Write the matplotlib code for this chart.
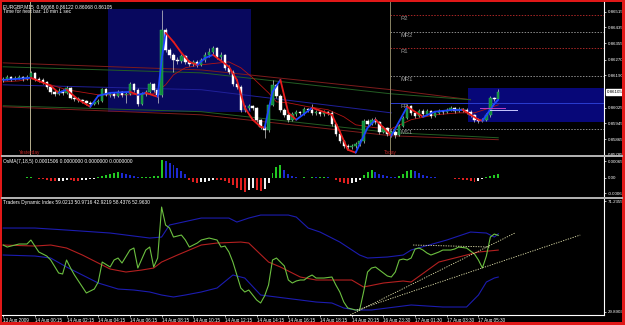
import numpy as np
import matplotlib
matplotlib.use("Agg")
import matplotlib.pyplot as plt
import matplotlib.transforms as mtransforms
from matplotlib.lines import Line2D
from matplotlib.patches import Rectangle

# ---------------- data ----------------
symbol_header = "EURGBP,M15  0.86068 0.86122 0.86068 0.86105"
timer_text = "Time for next bar: 10 min 1 sec"
osma_header = "OsMA(7,18,5) 0.0001506 0.0000000 0.0000000 0.0000000"
tdi_header = "Traders Dynamic Index 59.0213 50.9716 42.9219 58.4376 52.9630"

opens = [0.86167,0.86173,0.86183,0.86173,0.86178,0.86183,0.86173,0.86183,0.86203,0.86173,
 0.86167,0.86157,0.86132,0.86106,0.86096,0.86111,0.86101,0.86127,0.86076,0.86071,
 0.86066,0.86061,0.86050,0.86045,0.86055,0.86061,0.86122,0.86091,0.86096,0.86086,
 0.86106,0.86091,0.86096,0.86147,0.86117,0.86045,0.86096,0.86106,0.86147,0.86117,
 0.86091,0.86422,0.86320,0.86295,0.86269,0.86264,0.86290,0.86259,0.86249,0.86259,
 0.86244,0.86269,0.86295,0.86310,0.86330,0.86285,0.86295,0.86229,0.86208,0.86147,
 0.86132,0.86015,0.86025,0.86035,0.86025,0.85964,0.85928,0.85913,0.86040,0.86142,
 0.86086,0.86015,0.85989,0.85964,0.85994,0.86005,0.85999,0.86020,0.86015,0.85999,
 0.86005,0.85994,0.86005,0.85999,0.85943,0.85893,0.85857,0.85831,0.85826,0.85831,
 0.85842,0.85857,0.85959,0.85943,0.85964,0.85954,0.85903,0.85923,0.85893,0.85903,
 0.85887,0.85933,0.85974,0.86035,0.85999,0.85984,0.86010,0.85994,0.86010,0.85984,
 0.85999,0.86010,0.86005,0.86015,0.86025,0.86010,0.86020,0.86015,0.86005,0.85989,
 0.85964,0.85959,0.85964,0.85989,0.86076,0.86068]
closes = [0.86173,0.86183,0.86173,0.86178,0.86183,0.86173,0.86183,0.86203,0.86173,0.86167,
 0.86157,0.86132,0.86106,0.86096,0.86111,0.86101,0.86127,0.86076,0.86071,0.86066,
 0.86061,0.86050,0.86045,0.86055,0.86061,0.86122,0.86091,0.86096,0.86086,0.86106,
 0.86091,0.86096,0.86147,0.86117,0.86045,0.86096,0.86106,0.86147,0.86117,0.86091,
 0.86422,0.86320,0.86295,0.86269,0.86264,0.86290,0.86259,0.86249,0.86259,0.86244,
 0.86269,0.86295,0.86310,0.86330,0.86285,0.86295,0.86229,0.86208,0.86147,0.86132,
 0.86015,0.86025,0.86035,0.86025,0.85964,0.85928,0.85913,0.86040,0.86142,0.86086,
 0.86015,0.85989,0.85964,0.85994,0.86005,0.85999,0.86020,0.86015,0.85999,0.86005,
 0.85994,0.86005,0.85999,0.85943,0.85893,0.85857,0.85831,0.85826,0.85831,0.85842,
 0.85857,0.85959,0.85943,0.85964,0.85954,0.85903,0.85923,0.85893,0.85903,0.85887,
 0.85933,0.85974,0.86035,0.85999,0.85984,0.86010,0.85994,0.86010,0.85984,0.85999,
 0.86010,0.86005,0.86015,0.86025,0.86010,0.86020,0.86015,0.86005,0.85989,0.85964,
 0.85959,0.85964,0.85989,0.86076,0.86068,0.86105]
highs = [0.86183,0.86193,0.86188,0.86188,0.86193,0.86188,0.86193,0.86213,0.86208,0.86183,
 0.86178,0.86162,0.86137,0.86117,0.86127,0.86122,0.86137,0.86132,0.86086,0.86081,
 0.86071,0.86066,0.86061,0.86066,0.86071,0.86127,0.86127,0.86106,0.86106,0.86117,
 0.86111,0.86106,0.86157,0.86152,0.86127,0.86106,0.86117,0.86157,0.86152,0.86122,
 0.86524,0.86432,0.86330,0.86305,0.86285,0.86300,0.86295,0.86269,0.86269,0.86269,
 0.86279,0.86310,0.86330,0.86341,0.86335,0.86310,0.86300,0.86244,0.86218,0.86167,
 0.86142,0.86040,0.86045,0.86040,0.86030,0.85969,0.85938,0.86050,0.86167,0.86147,
 0.86096,0.86025,0.85999,0.86005,0.86015,0.86010,0.86030,0.86025,0.86045,0.86015,
 0.86010,0.86015,0.86010,0.86010,0.85949,0.85898,0.85862,0.85842,0.85842,0.85852,
 0.85867,0.85969,0.85969,0.85974,0.85979,0.85959,0.85933,0.85928,0.85913,0.85913,
 0.85943,0.85984,0.86045,0.86040,0.86010,0.86020,0.86020,0.86020,0.86015,0.86005,
 0.86020,0.86015,0.86025,0.86035,0.86030,0.86030,0.86025,0.86025,0.86015,0.85994,
 0.85974,0.85974,0.85999,0.86086,0.86081,0.86122]
lows = [0.86157,0.86167,0.86162,0.86167,0.86173,0.86162,0.86167,0.86178,0.86162,0.86157,
 0.86147,0.86122,0.86096,0.86086,0.86091,0.86091,0.86096,0.86071,0.86061,0.86055,
 0.86050,0.86040,0.86030,0.86040,0.86045,0.86055,0.86086,0.86081,0.86076,0.86081,
 0.86081,0.86050,0.86091,0.86106,0.86035,0.86040,0.86086,0.86101,0.86106,0.86050,
 0.86081,0.86310,0.86279,0.86208,0.86249,0.86254,0.86249,0.86239,0.86239,0.86234,
 0.86239,0.86259,0.86285,0.86300,0.86274,0.86269,0.86218,0.86198,0.86137,0.86122,
 0.86005,0.86005,0.86015,0.86015,0.85954,0.85918,0.85872,0.85903,0.86035,0.86076,
 0.86005,0.85979,0.85954,0.85959,0.85984,0.85989,0.85989,0.86005,0.85989,0.85989,
 0.85984,0.85984,0.85989,0.85933,0.85882,0.85847,0.85821,0.85811,0.85816,0.85821,
 0.85831,0.85847,0.85933,0.85938,0.85943,0.85893,0.85898,0.85882,0.85877,0.85872,
 0.85882,0.85928,0.85969,0.85989,0.85974,0.85979,0.85984,0.85989,0.85974,0.85979,
 0.85994,0.85994,0.85999,0.86010,0.85999,0.86005,0.86005,0.85994,0.85979,0.85954,
 0.85949,0.85954,0.85959,0.85979,0.86061,0.86068]

# fast coloured MA (bar index, price)
ma_bars = [0,4,7,12,14,16,19,22,24,27,32,34,36,39,40,41,43,45,47,49,51,53,57,59,61,63,65,66,68,70,
           72,74,76,78,83,85,87,89,92,94,97,98,102,106,109,114,116,120,121,124,125]
ma_prices = [0.86167,0.86173,0.86178,0.86137,0.86101,0.86117,0.86066,0.86030,0.86086,0.86101,
             0.86106,0.86091,0.86101,0.86081,0.86269,0.86407,0.86361,0.86305,0.86259,0.86244,
             0.86279,0.86295,0.86234,0.86167,0.86025,0.85964,0.85928,0.85923,0.86106,0.86167,
             0.85999,0.85964,0.85994,0.86025,0.85989,0.85903,0.85811,0.85796,0.85923,0.85964,
             0.85903,0.85882,0.86030,0.85979,0.86005,0.86015,0.86015,0.85964,0.85959,0.86045,0.86066]
# slow thin MA
slow_bars = [0,4,7,12,16,24,32,38,41,43,46,50,57,60,63,67,69,72,77,82,86,89,94,98,103,109,115,119,123,125]
slow_prices = [0.86157,0.86162,0.86173,0.86142,0.86117,0.86091,0.86091,0.86096,0.86142,0.86193,
               0.86229,0.86244,0.86259,0.86229,0.86178,0.86101,0.86055,0.86050,0.86030,0.86015,
               0.85979,0.85938,0.85923,0.85918,0.85964,0.85989,0.85999,0.85999,0.86025,0.86040]

# channel lines
upper_red_bars = [0, 50, 98, 118];   upper_red_prices = [0.86254, 0.86218, 0.86117, 0.86066]
upper_green_bars = [0, 50, 98, 118]; upper_green_prices = [0.86234, 0.86203, 0.86096, 0.86066]
lower_green_bars = [0, 50, 98, 125]; lower_green_prices = [0.86035, 0.86005, 0.85898, 0.85872]
lower_red_bars = [0, 50, 98, 125];   lower_red_prices = [0.86030, 0.85989, 0.85882, 0.85862]
mid_blue_bars = [0, 50, 98];         mid_blue_prices = [0.86142, 0.86117, 0.85999]

# session boxes
box_start = [26.5, 117.4]
box_end = [62.6, 152.0]
box_top = [0.86529, 0.86127]
box_bottom = [0.86005, 0.85954]

# pivots
pivot_names = ["R2", "MR2", "R1", "MR1", "FP", "MS1"]
pivot_levels = [0.86498, 0.86412, 0.86330, 0.86188, 0.86048, 0.85915]
yesterday_bar = 6.75
today_bar = 97.75
magenta_level = 0.86025; magenta_bars = [120.4, 126.7]
lavender_level = 0.86015; lavender_bars = [123.0, 129.7]

price_ticks = [0.86515, 0.86435, 0.86355, 0.86270, 0.86190, 0.86025, 0.85945, 0.85865, 0.85785]

# OsMA histogram
osma_values = [-0.00004,-0.00004,-0.00004,-0.00004,-0.00004,-0.00004,0.00004,0.00004,-0.00004,-0.00008,
 -0.00008,-0.00012,-0.00016,-0.00016,-0.00016,-0.00016,-0.00012,-0.00012,-0.00016,-0.00016,
 -0.00012,-0.00012,-0.00008,-0.00008,0.00004,0.00008,0.00012,0.00016,0.00020,0.00024,
 0.00020,0.00016,0.00012,0.00008,0.00004,0.00004,0.00004,0.00004,0.00008,0.00008,
 0.00073,0.00069,0.00057,0.00049,0.00037,0.00028,0.00016,-0.00012,-0.00020,-0.00024,
 -0.00020,-0.00020,-0.00016,-0.00012,-0.00012,-0.00012,-0.00016,-0.00024,-0.00032,-0.00041,
 -0.00049,-0.00057,-0.00049,-0.00041,-0.00049,-0.00053,-0.00045,-0.00024,0.00020,0.00041,
 0.00049,0.00032,0.00016,0.00008,0.00004,-0.00004,0.00004,-0.00004,0.00004,0.00004,
 0.00004,0.00004,0.00004,-0.00004,-0.00012,-0.00020,-0.00024,-0.00028,-0.00024,-0.00020,
 -0.00012,0.00012,0.00024,0.00032,0.00024,0.00016,0.00012,0.00008,0.00004,0.00004,
 0.00008,0.00016,0.00028,0.00032,0.00028,0.00020,0.00012,0.00008,0.00004,0.00004,
 -0.00004,-0.00004,-0.00004,-0.00004,-0.00008,-0.00008,-0.00012,-0.00012,-0.00016,-0.00020,
 -0.00016,-0.00008,0.00004,0.00008,0.00012,0.00015]
osma_states = ("wwwwwwggrr" "rrrrwwwrrr" "wwwwgggggg" "bbbbbggggg" "gbbbbbbrrr" "wwwwrrrrrr"
               "rrwwrrwwgg" "gbbbbrgrgb" "ggbrrrrrww" "wgggbbbbbb" "ggggbbbbbb" "rrwrrrrrrr" "wwgggg")
osma_ticks = [0.00065, 0.0, -0.00063]
osma_tick_labels = ["0.00065", "0.00", "-0.00063"]

# Traders Dynamic Index
rsi_bars = [0,1,3,4,6,7,8,9,10,11,12,14,15,16,17,18,20,21,23,24,25,27,28,29,30,32,33,34,36,37,
            38,39,40,41,42,43,45,46,47,49,50,52,53,54,55,56,57,58,60,61,62,64,65,66,67,68,69,70,71,72,
            73,74,75,76,77,78,79,81,83,84,85,86,87,89,90,91,92,93,94,96,97,98,99,100,101,102,103,104,105,106,
            107,108,110,111,113,114,115,117,119,120,121,122,123,124,125]
rsi_values = [54.85,54.10,54.85,55.22,55.22,56.71,54.47,52.24,51.50,50.75,49.26,44.42,44.04,49.26,46.28,43.67,39.20,36.97,38.45,41.06,
              48.51,46.65,49.26,50.00,48.14,52.98,53.73,46.28,52.98,54.10,46.65,50.00,69.00,62.31,61.18,57.82,58.57,56.71,54.10,55.59,
              56.71,57.45,57.08,56.71,54.10,54.47,52.24,48.51,38.83,37.34,38.08,34.36,33.24,35.85,39.94,49.26,50.00,48.51,47.02,41.81,
              40.69,41.44,41.81,41.81,42.93,43.67,42.55,42.55,42.93,39.94,37.34,33.61,31.38,30.63,30.63,37.34,44.79,46.28,46.65,44.42,
              43.30,42.93,44.79,49.26,49.63,49.26,50.00,53.36,53.73,52.98,51.87,51.12,52.24,52.98,52.98,53.36,54.10,53.73,51.50,49.26,
              46.28,50.75,57.82,58.94,58.44]
signal_bars = [0,8,12,16,20,24,27,31,35,38,40,44,47,50,54,60,62,67,70,75,79,83,88,91,96,101,103,110,115,120,125]
signal_values = [54.85,54.47,54.85,53.73,51.12,48.14,45.91,44.79,45.53,46.28,48.51,51.12,52.98,54.85,55.59,55.96,55.59,
                 48.51,46.65,42.93,41.81,41.81,41.81,39.20,40.69,41.44,41.06,48.51,50.38,52.24,52.96]
upper_band_bars = [0,8,16,27,37,40,42,50,57,59,62,65,72,74,77,80,85,90,92,97,101,103,112,118,122,124,125]
upper_band_values = [61.18,61.18,60.43,59.32,57.45,57.82,62.31,64.90,64.90,63.41,64.90,66.02,66.02,65.27,61.18,59.69,
                     55.96,51.12,50.00,50.38,51.12,52.98,56.71,59.69,59.32,57.82,59.02]
lower_band_bars = [0,8,12,16,20,24,29,33,37,40,43,46,50,54,58,61,65,71,75,79,83,86,89,93,97,103,111,117,120,122,124,125]
lower_band_values = [51.12,50.75,50.00,46.65,43.67,40.69,38.45,38.08,37.34,36.22,35.48,36.22,37.34,38.83,43.67,42.55,
                     36.22,35.10,34.36,33.61,33.24,31.38,30.63,30.63,31.38,32.50,31.75,31.75,36.22,41.06,42.55,42.92]
tdi_trend_start_bar = [103.5, 87.6, 89.3]
tdi_trend_start_val = [54.85, 28.77, 30.63]
tdi_trend_end_bar = [123.0, 129.2, 145.7]
tdi_trend_end_val = [54.10, 59.32, 58.57]
tdi_ticks = [71.2355, 29.8903]

time_label_bars = [0, 8, 16, 24, 32, 40, 48, 56, 64, 72, 80, 88, 96, 104, 112, 120]
time_labels = ["13 Aug 2009", "14 Aug 00:15", "14 Aug 02:15", "14 Aug 04:15", "14 Aug 06:15",
               "14 Aug 08:15", "14 Aug 10:15", "14 Aug 12:15", "14 Aug 14:15", "14 Aug 16:15",
               "14 Aug 18:15", "14 Aug 20:15", "16 Aug 23:30", "17 Aug 01:30", "17 Aug 03:30",
               "17 Aug 05:30"]

# ---------------- figure ----------------
plt.rcParams['font.family'] = ['Liberation Sans', 'DejaVu Sans']
W, H = 625, 325
fig = plt.figure(figsize=(W / 100, H / 100), dpi=100)
fig.patch.set_facecolor('black')

def box(x0, y0, x1, y1):
    return [x0 / W, 1 - y1 / H, (x1 - x0) / W, (y1 - y0) / H]

ax = fig.add_axes(box(2, 2, 604, 155))
ax_o = fig.add_axes(box(2, 158, 604, 196))
ax_t = fig.add_axes(box(2, 199, 604, 315))
XL = (-0.3, 151.7)
for a in (ax, ax_o, ax_t):
    a.set_facecolor('black')
    a.set_xlim(*XL)
    for s in a.spines.values():
        s.set_visible(False)
    a.yaxis.tick_right()
    a.tick_params(axis='y', colors='white', labelsize=3.2, length=1.5, width=0.5, pad=1)
    a.tick_params(axis='x', bottom=False, labelbottom=False)

# ---- main price panel ----
ax.set_ylim(0.85784, 0.865644)
for x0, x1, t, b, col in zip(box_start, box_end, box_top, box_bottom, ['#08085e', '#070778']):
    ax.add_patch(Rectangle((x0, b), x1 - x0, t - b, facecolor=col, edgecolor='none', zorder=0))

ax.plot(upper_red_bars, upper_red_prices, color='#7e1c1c', lw=0.7, zorder=1)
ax.plot(upper_green_bars, upper_green_prices, color='#245e24', lw=0.7, zorder=1)
ax.plot(lower_green_bars, lower_green_prices, color='#245e24', lw=0.7, zorder=1)
ax.plot(lower_red_bars, lower_red_prices, color='#7e1c1c', lw=0.7, zorder=1)
ax.plot(mid_blue_bars, mid_blue_prices, color='#20209a', lw=0.7, zorder=1)

pivot_colors = ['#a82626', '#8c8c8c', '#a82626', '#8c8c8c', '#2a3cd0', '#8c8c8c']
for name, lvl, col in zip(pivot_names, pivot_levels, pivot_colors):
    ls = '-' if name == 'FP' else (0, (1.5, 1.5))
    ax.plot([today_bar, XL[1]], [lvl, lvl], color=col, lw=0.7, ls=ls, zorder=1)
    tr = mtransforms.offset_copy(ax.transData, fig=fig, x=0, y=-1.0, units='dots')
    ax.text(today_bar + 2.5, lvl, name, transform=tr, color='#9a9a9a', fontsize=4.2,
            va='top', ha='left', zorder=6)

ax.axvline(yesterday_bar, color='#b8b090', lw=0.7, zorder=1)
ax.axvline(today_bar, color='#8a8464', lw=0.7, zorder=1)
bt = mtransforms.blended_transform_factory(ax.transData, ax.transAxes)
ax.text(yesterday_bar, 0.0, "Yesterday", transform=bt, color='#c02828', fontsize=3.4, ha='center', va='bottom')
ax.text(today_bar, 0.0, "Today", transform=bt, color='#c02828', fontsize=3.4, ha='center', va='bottom')

ax.plot(slow_bars, slow_prices, color='#b41414', lw=0.6, zorder=2)

idx = np.arange(len(closes))
o = np.array(opens); c = np.array(closes); h = np.array(highs); l = np.array(lows)
up = c >= o
ax.vlines(idx, l, h, color='#cfcfcf', lw=0.5, zorder=3)
ax.bar(idx[up], (c - o)[up], bottom=o[up], width=0.62, color='#0d8a3c', edgecolor='#3fbf68', lw=0.3, zorder=4)
ax.bar(idx[~up], (o - c)[~up], bottom=c[~up], width=0.62, color='white', edgecolor='white', lw=0.3, zorder=4)

for k in range(len(ma_bars) - 1):
    col = '#1e46ff' if ma_prices[k + 1] >= ma_prices[k] else '#e81c1c'
    ax.plot(ma_bars[k:k + 2], ma_prices[k:k + 2], color=col, lw=1.3, solid_capstyle='round', zorder=5)

ax.plot(magenta_bars, [magenta_level] * 2, color='#c040c0', lw=0.7, zorder=5)
ax.plot(lavender_bars, [lavender_level] * 2, color='#c8c8ff', lw=0.7, zorder=5)

ax.set_yticks(price_ticks)
ax.set_yticklabels(['%.5f' % p for p in price_ticks])
ta = mtransforms.blended_transform_factory(ax.transAxes, ax.transData)
ax.text(1.004, closes[-1], '%.5f' % closes[-1], transform=ta, fontsize=3.2, color='black',
        va='center', ha='left', clip_on=False,
        bbox=dict(boxstyle='square,pad=0.15', fc='white', ec='white'))
ax.text(0.002, 0.985, symbol_header, transform=ax.transAxes, color='white', fontsize=3.5, va='top', ha='left')
ax.text(0.002, 0.952, timer_text, transform=ax.transAxes, color='white', fontsize=3.5, va='top', ha='left')

# ---- OsMA ----
ax_o.set_ylim(-0.000751, 0.000792)
cmap = {'g': '#22c822', 'b': '#1c2ad2', 'r': '#e02020', 'w': '#f0f0f0'}
ax_o.bar(idx, osma_values, width=0.5, color=[cmap[s] for s in osma_states], zorder=2)
ax_o.set_yticks(osma_ticks)
ax_o.set_yticklabels(osma_tick_labels)
ax_o.text(0.002, 0.97, osma_header, transform=ax_o.transAxes, color='white', fontsize=3.5, va='top', ha='left')

# ---- TDI ----
ax_t.set_ylim(28.77, 72.0)
ax_t.plot(upper_band_bars, upper_band_values, color='#1c1cb0', lw=0.8)
ax_t.plot(lower_band_bars, lower_band_values, color='#1c1cb0', lw=0.8)
ax_t.plot(signal_bars, signal_values, color='#b42020', lw=0.8)
ax_t.plot(rsi_bars, rsi_values, color='#6cc040', lw=0.8)
for xs, vs, xe, ve in zip(tdi_trend_start_bar, tdi_trend_start_val, tdi_trend_end_bar, tdi_trend_end_val):
    ax_t.plot([xs, xe], [vs, ve], color='#e6e6b0', lw=0.6, ls=(0, (1.5, 1.5)))
ax_t.set_yticks(tdi_ticks)
ax_t.set_yticklabels(['%.4f' % v for v in tdi_ticks])
ax_t.text(0.002, 0.995, tdi_header, transform=ax_t.transAxes, color='white', fontsize=3.5, va='top', ha='left')
ax_t.set_xticks(time_label_bars)
ax_t.set_xticklabels(time_labels)
ax_t.tick_params(axis='x', bottom=True, labelbottom=True, colors='white', labelsize=3.3,
                 length=1.5, width=0.5, pad=0.6)
for t in ax_t.get_xticklabels():
    t.set_ha('left')
ax_t.spines['bottom'].set_visible(True)
ax_t.spines['bottom'].set_color('white')
ax_t.spines['bottom'].set_linewidth(0.8)

# ---- frame ----
fig.add_artist(Line2D([604 / W, 604 / W], [1 - 2 / H, 1 - 315 / H], color='white', lw=0.8, transform=fig.transFigure))
for yy in (156.5, 197.5):
    fig.add_artist(Line2D([2 / W, 622 / W], [1 - yy / H, 1 - yy / H], color='#b4b4b4', lw=1.4, transform=fig.transFigure))
red = '#e01818'
for (x0, y0, w, hh) in [(0, 0, 2, 325), (0, 0, 625, 2), (622, 0, 3, 325), (0, 322, 625, 3)]:
    fig.add_artist(Rectangle((x0 / W, 1 - (y0 + hh) / H), w / W, hh / H, transform=fig.transFigure,
                             facecolor=red, edgecolor='none'))

fig.savefig('out.png', dpi=100, facecolor='black')
